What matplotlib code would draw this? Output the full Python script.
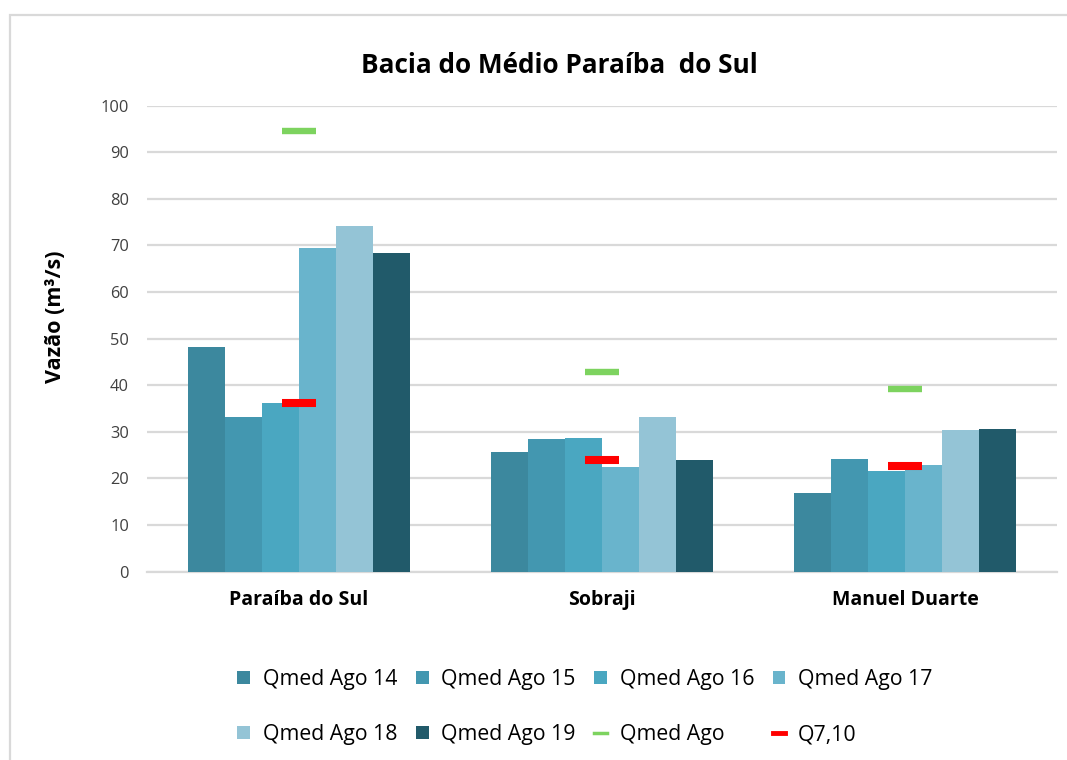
import matplotlib
matplotlib.use("Agg")
import matplotlib.pyplot as plt
import numpy as np
from matplotlib.lines import Line2D
from matplotlib.patches import Patch, Rectangle

plt.rcParams["font.family"] = ["Open Sans", "DejaVu Sans"]

# values (m3/s)
stations = ["Paraíba do Sul", "Sobraji", "Manuel Duarte"]
series_names = ["Qmed Ago 14", "Qmed Ago 15", "Qmed Ago 16",
                "Qmed Ago 17", "Qmed Ago 18", "Qmed Ago 19"]
qmed_ago_14 = [48.3, 25.6, 16.9]
qmed_ago_15 = [33.1, 28.4, 24.2]
qmed_ago_16 = [36.2, 28.6, 21.7]
qmed_ago_17 = [69.4, 22.4, 22.9]
qmed_ago_18 = [74.2, 33.1, 30.5]
qmed_ago_19 = [68.4, 24.0, 30.6]
qmed_ago = [94.5, 42.8, 39.1]
q7_10 = [36.3, 24.0, 22.6]

bar_colors = ["#3C889E", "#4397B0", "#4AA7C1", "#69B4CC", "#94C4D6", "#215A6A"]
green = "#7DD35F"
red = "#FF0000"
grid_gray = "#D9D9D9"

series = [qmed_ago_14, qmed_ago_15, qmed_ago_16,
          qmed_ago_17, qmed_ago_18, qmed_ago_19]

fig = plt.figure(figsize=(10.67, 7.6), dpi=100)
ax = fig.add_axes([0.1378, 0.2478, 0.8528, 0.6132])

x = np.arange(len(stations))
bar_w = 0.122
for i, (vals, col) in enumerate(zip(series, bar_colors)):
    ax.bar(x + (i - 2.5) * bar_w, vals, width=bar_w, color=col, zorder=3)

ax.plot(x, qmed_ago, linestyle="none", marker="_", markersize=24,
        markeredgewidth=4.6, color=green, zorder=4)
ax.plot(x, q7_10, linestyle="none", marker="_", markersize=25,
        markeredgewidth=5.8, color=red, zorder=4)

ax.set_xlim(-0.5, 2.5)
ax.set_ylim(0, 100)
ax.set_yticks(np.arange(0, 101, 10))
ax.set_xticks(x, labels=stations)
ax.grid(axis="y", color=grid_gray, linewidth=1.6, zorder=0)
ax.set_axisbelow(True)
for side in ["top", "right", "left"]:
    ax.spines[side].set_visible(False)
ax.spines["bottom"].set_color(grid_gray)
ax.spines["bottom"].set_linewidth(1.6)
ax.tick_params(axis="y", length=0, pad=13, labelsize=11.8, labelcolor="#404040")
ax.tick_params(axis="x", length=0, pad=13, labelsize=14)
for lab in ax.get_xticklabels():
    lab.set_fontweight("bold")

fig.text(0.524, 0.914, "Bacia do Médio Paraíba  do Sul", ha="center", va="center",
         fontsize=18.8, fontweight="bold")
fig.text(0.052, 0.583, "Vazão (m³/s)", ha="center", va="center", rotation=90,
         fontsize=15.5, fontweight="bold")

# outer chart frame
fig.patches.append(Rectangle((10 / 1067, -0.02), 1.1, 0.98 + 0.02,
                             transform=fig.transFigure, fill=False,
                             edgecolor=grid_gray, linewidth=1.6))

handles = [Patch(facecolor=c) for c in bar_colors]
handles += [Line2D([], [], color=green, linewidth=2.5),
            Line2D([], [], color=red, linewidth=3.5)]
labels = series_names + ["Qmed Ago", "Q7,10"]
order = [0, 4, 1, 5, 2, 6, 3, 7]
fig.legend([handles[i] for i in order], [labels[i] for i in order],
           loc="center", bbox_to_anchor=(585 / 1067, 1 - 707 / 760), ncol=4,
           frameon=False, fontsize=15.3, handlelength=0.6, handleheight=0.6,
           handletextpad=0.6, columnspacing=0.87, labelspacing=1.6)

fig.savefig("out.png", dpi=100)
